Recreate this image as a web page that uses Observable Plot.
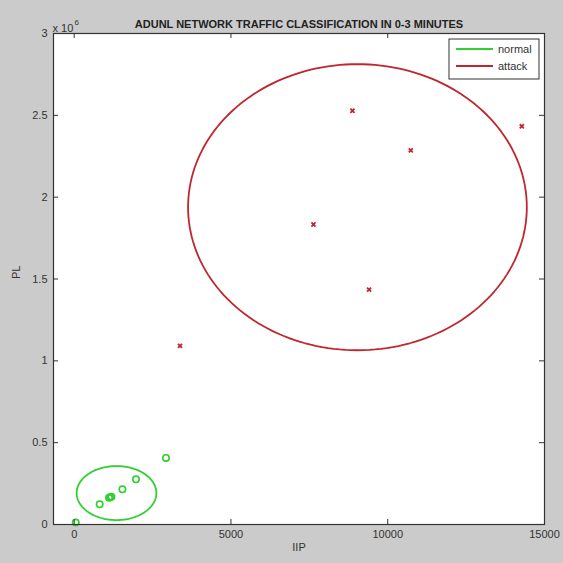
<!DOCTYPE html>
<html>
<head>
<meta charset="utf-8">
<script src="https://cdn.jsdelivr.net/npm/d3@7"></script>
<script src="https://cdn.jsdelivr.net/npm/@observablehq/plot@0.6"></script>
<style>
  html, body { margin: 0; padding: 0; background: #cbcbcb; }
  #chart svg { display: block; }
</style>
</head>
<body>
<div id="chart"></div>
<script>
// Normal traffic samples (IIP, PL)
const normalIIP = [50, 813, 1110, 1150, 1187, 1538, 1971, 2928];
const normalPL  = [12000, 123000, 163000, 166000, 170000, 215000, 276000, 407000];

// Attack traffic samples (IIP, PL)
const attackIIP = [3375, 7631, 8875, 9405, 10735, 14276];
const attackPL  = [1091000, 1833000, 2528000, 1435000, 2286000, 2433000];

// Cluster boundaries: centre and semi-axes of each ellipse
const clusterNames      = ["normal", "attack"];
const clusterColors     = ["#30d030", "#c0262e"];
const clusterCenterIIP  = [1350, 9034];
const clusterCenterPL   = [192000, 1938600];
const clusterRadiusIIP  = [1271, 5402];
const clusterRadiusPL   = [165000, 874000];

// Axis ticks
const xTicks = [0, 5000, 10000, 15000];
const yTicks = [0, 500000, 1000000, 1500000, 2000000, 2500000, 3000000];

const titleText = "ADUNL NETWORK TRAFFIC CLASSIFICATION IN 0-3 MINUTES";
const font = "'Liberation Sans', Arial, Helvetica, sans-serif";
const ink = "#333333";

const normalPts = normalIIP.map((x, i) => ({x, y: normalPL[i]}));
const attackPts = attackIIP.map((x, i) => ({x, y: attackPL[i]}));

// Sample each ellipse outline
const ellipsePts = [];
clusterNames.forEach((name, k) => {
  const n = 180;
  for (let i = 0; i < n; i++) {
    const t = (2 * Math.PI * i) / n;
    ellipsePts.push({
      cluster: name,
      x: clusterCenterIIP[k] + clusterRadiusIIP[k] * Math.cos(t),
      y: clusterCenterPL[k] + clusterRadiusPL[k] * Math.sin(t)
    });
  }
});

const tickLen = 5;
const frameW = 563 - 53 - 19;
const frameH = 563 - 33 - 39;

const svg = Plot.plot({
  width: 563,
  height: 563,
  marginLeft: 53,
  marginRight: 19,
  marginTop: 33,
  marginBottom: 39,
  style: { background: "#cbcbcb", fontFamily: font, fontSize: "11px", color: ink },
  x: { domain: [-660, 15000], ticks: xTicks, tickFormat: d3.format("d"), tickSize: 0, tickPadding: 6, label: null },
  y: { domain: [0, 3000000], ticks: yTicks, tickFormat: d => String(d / 1e6), tickSize: 0, tickPadding: 6, label: null },
  color: { domain: clusterNames, range: clusterColors },
  marks: [
    Plot.frame({ fill: "white" }),
    Plot.line(ellipsePts, { x: "x", y: "y", z: "cluster", stroke: "cluster", strokeWidth: 1.8, curve: "linear-closed" }),
    Plot.dot(normalPts, { x: "x", y: "y", r: 3.2, stroke: clusterColors[0], strokeWidth: 1.6, fill: "none" }),
    Plot.dot(attackPts, { x: "x", y: "y", r: 2, symbol: "times", stroke: clusterColors[1], strokeWidth: 1.8 }),
    // inward ticks on all four sides
    Plot.tickX(xTicks, { x: d => d, insetTop: frameH - tickLen, stroke: ink }),
    Plot.tickX(xTicks, { x: d => d, insetBottom: frameH - tickLen, stroke: ink }),
    Plot.tickY(yTicks, { y: d => d, insetRight: frameW - tickLen, stroke: ink }),
    Plot.tickY(yTicks, { y: d => d, insetLeft: frameW - tickLen, stroke: ink }),
    Plot.frame({ stroke: ink, strokeWidth: 1.2 }),
    // labels
    Plot.text([titleText], { frameAnchor: "top", dy: -13, fontWeight: "bold", fontSize: 11, fill: "#222" }),
    Plot.text(["IIP"], { frameAnchor: "bottom", dy: 26, fill: ink }),
    Plot.text(["PL"], { frameAnchor: "left", dx: -37, rotate: -90, fill: ink }),
    Plot.text(["x 10"], { frameAnchor: "top-left", dx: -1, dy: -9, textAnchor: "start", fill: ink }),
    Plot.text(["6"], { frameAnchor: "top-left", dx: 21, dy: -14, textAnchor: "start", fontSize: 8, fill: ink })
  ]
});

// Legend box in the upper-right corner of the axes
const lg = d3.select(svg).append("g")
  .attr("font-family", font)
  .attr("font-size", 11)
  .attr("text-anchor", "start");
lg.append("rect")
  .attr("x", 449).attr("y", 39).attr("width", 90).attr("height", 40)
  .attr("fill", "white").attr("stroke", ink).attr("stroke-width", 1);
clusterNames.forEach((name, i) => {
  const yy = 49 + i * 17;
  lg.append("line")
    .attr("x1", 456).attr("x2", 493).attr("y1", yy).attr("y2", yy)
    .attr("stroke", clusterColors[i]).attr("stroke-width", 2);
  lg.append("text")
    .attr("x", 498).attr("y", yy).attr("dy", "0.35em")
    .attr("text-anchor", "start")
    .attr("fill", ink).text(name);
});

document.getElementById("chart").appendChild(svg);
</script>
</body>
</html>
